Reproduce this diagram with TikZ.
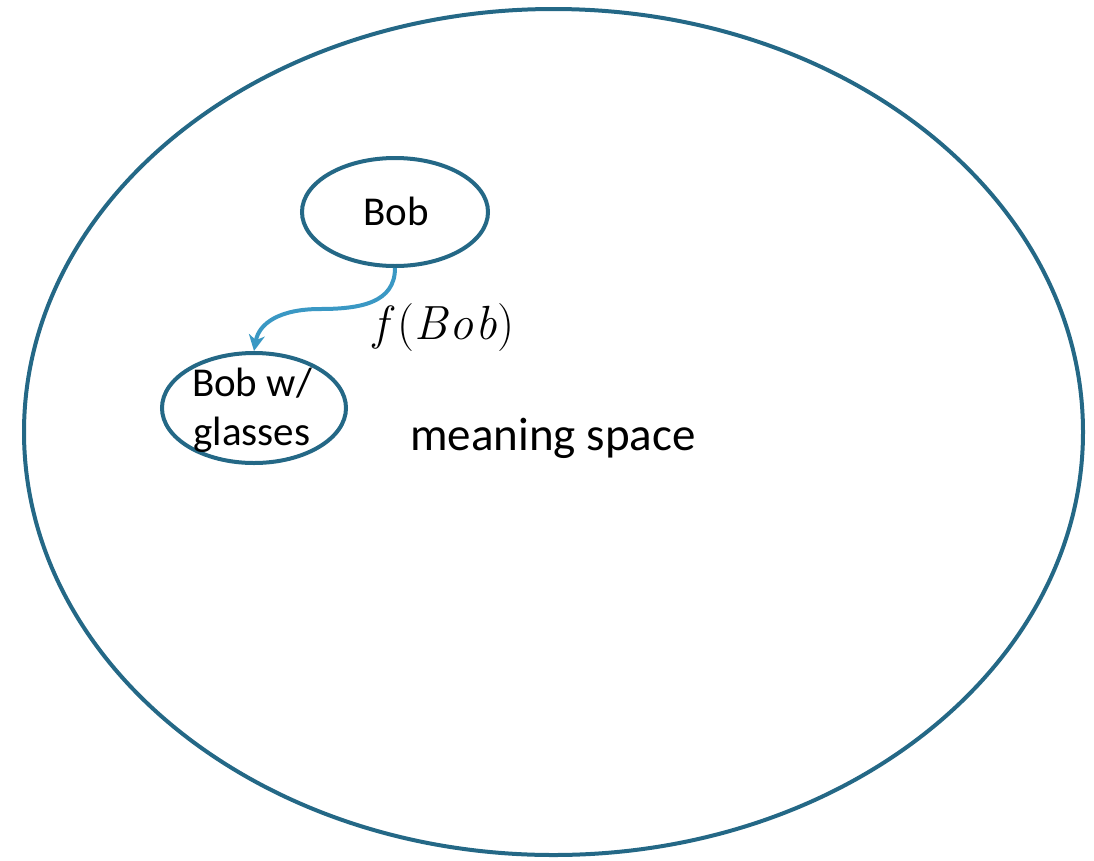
\documentclass[tikz,border=0pt]{standalone}
\usepackage{fontspec}
\setmainfont{Carlito}
\newfontfamily\lmr{Latin Modern Roman}
\usetikzlibrary{shapes.geometric,arrows.meta}
\definecolor{ringcol}{RGB}{36,104,134}
\definecolor{arrowcol}{RGB}{58,152,196}
\tikzset{
  ring/.style={ellipse, draw=ringcol, line width=4pt, inner sep=0pt},
  lbl/.style={font=\fontsize{41}{49}\selectfont, align=center},
  flow/.style={draw=arrowcol, line width=4pt, -{Stealth[length=16pt,width=16pt,inset=5pt]}}
}
\begin{document}
\begin{tikzpicture}[x=1pt,y=-1pt]
\useasboundingbox (0,0) rectangle (1094,860);
\node[ring, minimum width=1059pt, minimum height=846pt] (space) at (553.5,432) {};
\node[ring, minimum width=186pt, minimum height=108pt] (bob) at (395,212) {};
\node[lbl] (bobt) at (396,211) {Bob};
\node[ring, minimum width=184pt, minimum height=110pt] (gl) at (254,408) {};
\node[lbl] (glt) at (252,410) {Bob w/\\glasses};
\coordinate (m) at (320,309);
\draw[flow] (bob.south) .. controls +(0,35) and +(40,0) .. (m) .. controls +(-40,0) and +(5,-28) .. (gl.north);
\node[font=\lmr\fontsize{48}{55}\selectfont] (f) at (444,328) {\textit{f}\kern3pt(\textit{B\kern2pt o\kern2pt b})};
\node[font=\fontsize{47}{55}\selectfont] (ms) at (553,438) {meaning space};
\end{tikzpicture}
\end{document}
